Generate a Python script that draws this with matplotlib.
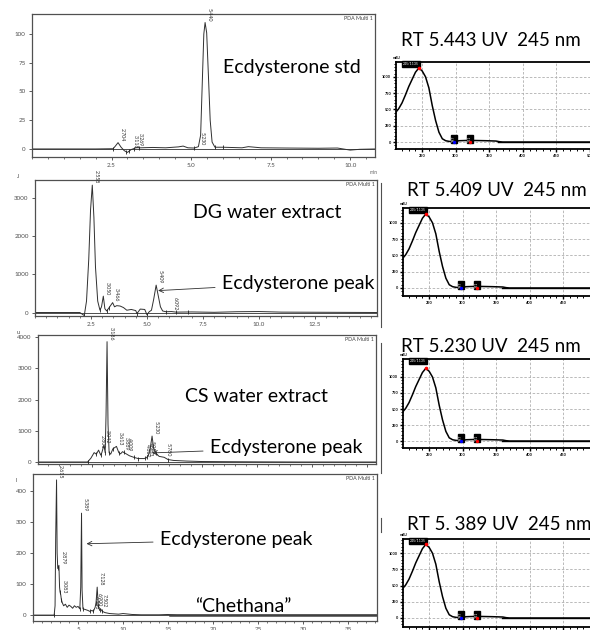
import numpy as np
import matplotlib
matplotlib.use("Agg")
import matplotlib.pyplot as plt
import matplotlib.transforms as mtransforms
from matplotlib.lines import Line2D
from matplotlib.ticker import MultipleLocator

W, H = 590, 630
plt.rcParams['font.family'] = ['Lato', 'DejaVu Sans']

# --- HPLC traces (retention time in min, detector response) ---
STD_T = [0, 1.0, 2.0, 2.55, 2.62, 2.704, 2.8, 2.9, 3.0, 3.118, 3.2, 3.269, 3.4, 3.8, 4.2,
         4.6, 4.75, 4.9, 5.1, 5.23, 5.3, 5.36, 5.40, 5.44, 5.49, 5.55, 5.6, 5.66, 5.75,
         6.0, 6.6, 6.8, 7.2, 8.0, 9.0, 9.6, 10.0, 10.3, 10.8]
STD_Y = [0, 0, 0, 0.2, 2.5, 5.5, 1.5, -1.5, -3, -0.5, 0.3, 1.2, 1.0, 1.3, 1.0,
         1.8, 2.5, 1.0, 0.8, 2.0, 12, 65, 100, 110, 101, 60, 25, 6, 1.5,
         1.5, 1.0, 2.0, 1.0, 0.8, 0.6, 0.8, -1.0, -0.3, 0]
STD_PEAKS = ["2.704", "3.118", "3.269", "5.230", "5.440"]
STD_MARKS = [2.55, 2.95, 3.05, 3.2, 3.35, 5.1, 5.75, 6.0]

DG_T = [0, 1.0, 2.0, 2.2, 2.3, 2.4, 2.48, 2.558, 2.63, 2.7, 2.8, 2.9, 2.97, 3.050, 3.12,
        3.2, 3.3, 3.466, 3.55, 3.65, 3.8, 3.95, 4.1, 4.3, 4.5, 4.55, 4.7, 4.9, 5.0,
        5.1, 5.2, 5.3, 5.409, 5.5, 5.6, 5.7, 5.85, 6.092, 6.3, 7.0, 8.0, 9.0, 10.0,
        11.0, 15.3]
DG_Y = [0, 0, 0, -80, 300, 1400, 2700, 3350, 2500, 1200, 300, 60, 150, 430, 100,
        40, 120, 260, 150, 180, 170, 130, 60, 80, 50, -30, 90, 80, -60,
        20, 60, 350, 720, 450, 150, 40, 20, 25, 10, 15, 5, 20, 25,
        10, 0]
DG_PEAKS = ["2.558", "3.050", "3.466", "5.409", "6.092"]
DG_MARKS = [2.2, 2.9, 3.2, 3.3, 4.55, 5.0, 5.85, 6.3, 6.85]

CS_T = [0, 1.0, 2.0, 2.3, 2.45, 2.6, 2.7, 2.801, 2.9, 2.95, 3.042, 3.1, 3.14, 3.186,
        3.23, 3.28, 3.35, 3.45, 3.613, 3.72, 3.8, 3.889, 4.009, 4.2, 4.4, 4.6, 4.862,
        4.963, 5.059, 5.15, 5.230, 5.3, 5.4, 5.55, 5.780, 5.95, 6.2, 6.8, 7.5, 8.5,
        10.0, 12.0, 15.4]
CS_Y = [0, 0, 0, 0, 120, 300, 250, 380, 220, 300, 540, 300, 1500, 3850,
        1200, 300, 250, 420, 500, 300, 260, 330, 280, 200, 150, 110, 110,
        130, 200, 450, 830, 450, 280, 180, 150, 80, 50, 30, 15, 10,
        5, 0, 0]
CS_PEAKS = ["2.801", "3.042", "3.186", "3.613", "3.889", "4.009", "4.862",
            "4.963", "5.059", "5.230", "5.780"]
CS_MARKS = [2.3, 2.7, 2.9, 3.1, 3.28, 3.45, 3.72, 3.95, 4.4, 4.6, 4.9, 5.0, 5.4, 5.95]

CHE_T = [0, 1.0, 2.0, 2.35, 2.45, 2.52, 2.615, 2.68, 2.75, 2.879, 2.95, 3.0, 3.083,
         3.15, 3.25, 3.4, 3.6, 3.8, 4.0, 4.2, 4.4, 4.6, 4.8, 5.0, 5.2, 5.3, 5.389,
         5.45, 5.55, 5.8, 6.1, 6.3, 6.548, 6.7, 6.9, 7.0, 7.128, 7.25, 7.4, 7.502,
         7.7, 8.0, 8.5, 9.0, 9.5, 10.0, 11, 12, 14, 15, 16, 20, 38.2]
CHE_Y = [0, 0, 0, 0, 30, 250, 435, 200, 150, 160, 90, 75, 65,
         50, 40, 30, 35, 25, 32, 28, 22, 30, 25, 28, 20, 90, 328,
         80, 20, 18, 15, 12, 15, 12, 25, 40, 90, 30, 15, 20,
         12, 8, 5, 4, 3, 5, 2, 1, 1, 2, 0, 0, 0]
CHE_PEAKS = ["2.615", "2.879", "3.083", "5.389", "6.548", "6.900", "7.128", "7.502"]
CHE_MARKS = [2.35, 2.75, 3.0, 3.15, 5.2, 5.6, 6.3, 6.7, 7.0, 7.25, 7.4, 7.7]
CHE_BASE = [15.2, 38.2]

# --- UV spectrum of the ecdysterone peak (nm, mAU) ---
UV_WL = [211, 215, 220, 225, 230, 235, 240, 245, 250, 255, 260, 265, 270, 275, 280,
         285, 290, 297, 305, 320, 345, 360, 365, 370, 400, 450, 520]
UV_ABS = [460, 510, 600, 720, 850, 960, 1070, 1135, 1090, 1000, 830, 560, 330, 150, 50,
          20, 10, 3, 20, 25, 20, 15, 5, 0, 0, 0, 0]
UV_MAX = (245, 1135)
UV_VALLEY = 297
UV_SHOULDER = 321

RT_TITLES = ["RT 5.443 UV  245 nm", "RT 5.409 UV  245 nm",
             "RT 5.230 UV  245 nm", "RT 5. 389 UV  245 nm"]


def box(l, t, r, b):
    return [l / W, 1 - b / H, (r - l) / W, (b - t) / H]


def fxy(x, y):
    return x / W, 1 - y / H


fig = plt.figure(figsize=(W / 100, H / 100), dpi=100)
fig.patch.set_facecolor('white')


def chromatogram(rect, t, y, xlim, ylim, xticks, xlabels, yticks, peaks, marks,
                 minor=0.5):
    ax = fig.add_axes(box(*rect))
    ax.plot(t, y, color='#303030', lw=0.7)
    ax.axhline(0, color='#303030', lw=0.6)
    ax.set_xlim(xlim)
    ax.set_ylim(ylim)
    ax.set_xticks(xticks)
    ax.set_xticklabels(xlabels)
    ax.set_yticks(yticks)
    ax.set_yticklabels([str(v) for v in yticks])
    ax.xaxis.set_minor_locator(MultipleLocator(minor))
    ax.tick_params(axis='both', which='major', length=2.5, width=0.6, pad=2,
                   labelsize=4.5, labelcolor='#505050', color='#404040')
    ax.tick_params(axis='x', which='minor', length=1.5, width=0.5, color='#404040')
    for s in ax.spines.values():
        s.set_color('#505050')
        s.set_linewidth(0.9)
    for lab in peaks:
        rt = float(lab)
        h = y[t.index(rt)]
        ax.annotate(lab, (rt, h), xytext=(1, 1), textcoords='offset points',
                    rotation=-90, ha='left', va='bottom', fontsize=3.8,
                    color='#303030')
    ax.plot(marks, np.interp(marks, t, y), ls='none', marker='|', ms=3,
            mew=0.6, color='#202020')
    return ax


ax1 = chromatogram((32, 14, 375, 157), STD_T, STD_Y, (0, 10.78), (-7, 117.4),
                   [2.5, 5.0, 7.5, 10.0], ["2.5", "5.0", "7.5", "10.0"],
                   [0, 25, 50, 75, 100], STD_PEAKS, STD_MARKS)
ax2 = chromatogram((35, 180, 377, 316), DG_T, DG_Y, (0, 15.27), (-92, 3485),
                   [2.5, 5.0, 7.5, 10.0, 12.5], ["2.5", "5.0", "7.5", "10.0", "12.5"],
                   [0, 1000, 2000, 3000], DG_PEAKS, DG_MARKS)
ax3 = chromatogram((38, 335, 376, 464), CS_T, CS_Y, (0.05, 15.4), (-64, 4064),
                   [2.5, 5.0, 7.5, 10.0, 12.5, 15.0], [""] * 6,
                   [0, 1000, 2000, 3000, 4000], CS_PEAKS, CS_MARKS)
ax4 = chromatogram((33, 474, 377, 621), CHE_T, CHE_Y, (0, 38.2), (-19, 454),
                   [5, 10, 15, 20, 25, 30, 35], ["5", "10", "15", "20", "25", "30", "35"],
                   [0, 100, 200, 300, 400], CHE_PEAKS, CHE_MARKS, minor=1)
ax4.plot(CHE_BASE, [0, 0], color='#404040', lw=1.8)

for ax in (ax1, ax2, ax3, ax4):
    ax.text(0.995, 0.985, "PDA Multi 1", transform=ax.transAxes, ha='right',
            va='top', fontsize=3.8, color='#404040')

# sample names
fig.text(*fxy(223, 68), "Ecdysterone std", fontsize=14, va='center')
fig.text(*fxy(193, 212), "DG water extract", fontsize=14, va='center')
fig.text(*fxy(185, 397), "CS water extract", fontsize=14, va='center')
fig.text(*fxy(195, 607), "\u201cChethana\u201d", fontsize=14, va='center')

# arrows pointing at the ecdysterone peaks
for ax, t, y, rt, frac, dx, txt_xy in [
        (ax2, DG_T, DG_Y, 5.409, 0.8, 2, (222, 283)),
        (ax3, CS_T, CS_Y, 5.230, 0.35, 0, (210, 448)),
        (ax4, CHE_T, CHE_Y, 5.389, 0.7, 5, (160, 540))]:
    h = y[t.index(rt)]
    tip = mtransforms.offset_copy(ax.transData, fig=fig, x=dx, y=0, units='dots')
    ax.annotate("Ecdysterone peak", xy=(rt, h * frac), xycoords=tip,
                xytext=fxy(*txt_xy), textcoords='figure fraction',
                fontsize=14, va='center', ha='left',
                arrowprops=dict(arrowstyle='->', lw=0.6, color='#303030',
                                shrinkA=3, shrinkB=0, mutation_scale=8))

# tiny unit marks at the corners of the chromatograms
fig.text(*fxy(17, 177), "J", fontsize=4, color='#404040', va='center')
fig.text(*fxy(17, 333), "u", fontsize=4, color='#404040', va='center')
fig.text(*fxy(16, 481), "I", fontsize=4, color='#404040', va='center')
fig.text(*fxy(370, 173), "min", fontsize=3.5, color='#606060', va='center')

# borders of the pasted spectrum frames
for top, bot in [(183, 327), (343, 473), (518, 532)]:
    fig.add_artist(Line2D([381 / W, 381 / W], [1 - top / H, 1 - bot / H],
                          color='#505050', lw=0.8))


def uv_panel(rect, xlim, ylim, title, title_xy):
    ax = fig.add_axes(box(*rect))
    ax.plot(UV_WL, UV_ABS, color='black', lw=1.1)
    ax.axhline(0, color='black', lw=1.0, xmin=0.5)
    ax.set_xlim(xlim)
    ax.set_ylim(ylim)
    ax.set_xticks([250, 300, 350, 400, 450, 500])
    ax.set_yticks([0, 250, 500, 750, 1000])
    ax.xaxis.set_minor_locator(MultipleLocator(10))
    ax.yaxis.set_minor_locator(MultipleLocator(50))
    ax.grid(True, which='major', ls=(0, (3, 2)), color='#b0b0b0', lw=0.6)
    ax.tick_params(axis='both', which='major', length=2, width=1, pad=1.5,
                   labelsize=2.8, direction='out')
    ax.tick_params(axis='both', which='minor', length=1.2, width=0.7,
                   direction='out')
    for lab in ax.get_xticklabels() + ax.get_yticklabels():
        lab.set_fontweight('bold')
    for s in ax.spines.values():
        s.set_linewidth(1.3)
        s.set_color('black')
    ax.plot(*UV_MAX, 'o', color='red', ms=1.6, zorder=5)
    ax.text(UV_MAX[0], ylim[1], "%d/%d" % UV_MAX, ha='right', va='top',
            fontsize=2.5, color='white',
            bbox=dict(boxstyle='square,pad=0.3', fc='black', ec='black'))
    for wl, col in [(UV_VALLEY, 'blue'), (UV_SHOULDER, 'red')]:
        ax.plot(wl, 0, 'o', color=col, ms=1.4, zorder=5)
        ax.text(wl, 0, str(wl), rotation=90, ha='center', va='bottom',
                fontsize=2.6, color='white',
                bbox=dict(boxstyle='square,pad=0.25', fc='black', ec='black'))
    fig.text(*fxy(*title_xy), title, fontsize=13.5, va='center', ha='left')
    fig.text(*fxy(rect[0] - 3, rect[1] - 4), "mAU", fontsize=2.5,
             fontweight='bold', va='center')
    return ax


uv_panel((396, 62, 600, 149), (211, 515), (-107, 1227), RT_TITLES[0], (401, 40))
uv_panel((403, 208, 600, 296), (211, 505), (-123, 1227), RT_TITLES[1], (407, 191))
uv_panel((403, 359, 600, 448), (211, 505), (-109, 1281), RT_TITLES[2], (401, 347))
uv_panel((403, 539, 600, 627), (211, 505), (-139, 1219), RT_TITLES[3], (407, 525))

fig.savefig("out.png", dpi=100, facecolor='white')
